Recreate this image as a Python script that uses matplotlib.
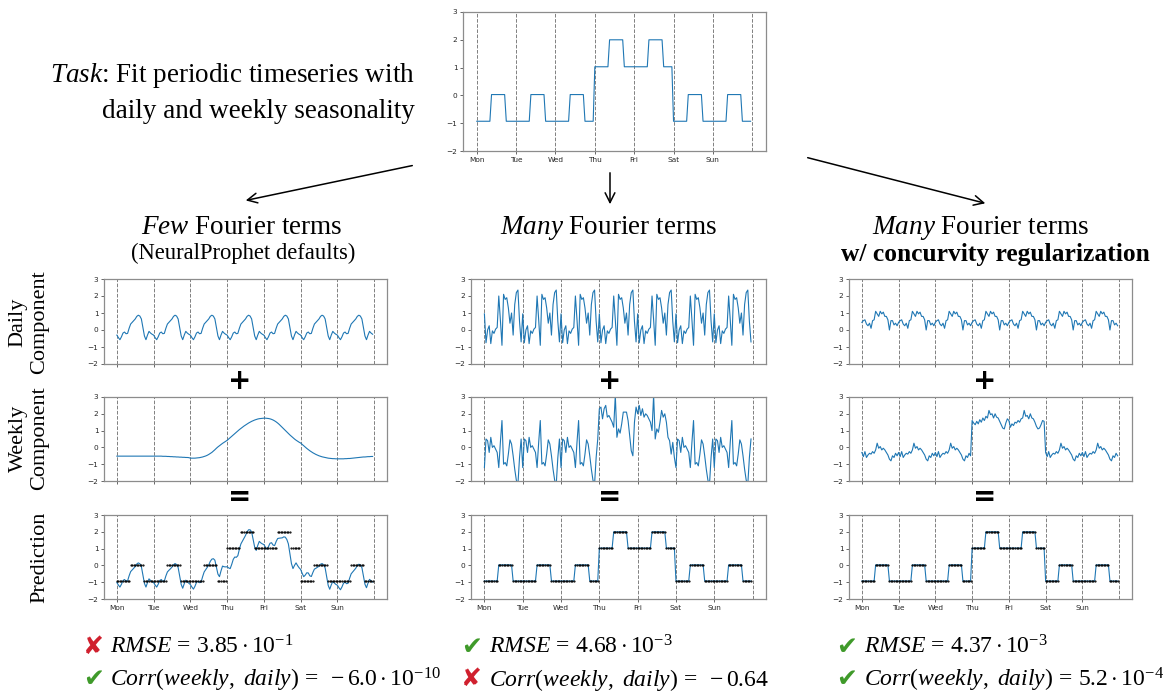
import matplotlib
matplotlib.use("Agg")
import matplotlib.pyplot as plt
import numpy as np

plt.rcParams['font.family'] = ['Liberation Serif', 'DejaVu Sans']
plt.rcParams['mathtext.fontset'] = 'custom'
plt.rcParams['mathtext.rm'] = 'Liberation Serif'
plt.rcParams['mathtext.it'] = 'Liberation Serif:italic'
plt.rcParams['mathtext.bf'] = 'Liberation Serif:bold'

W, H = 1169, 694
days = ['Mon', 'Tue', 'Wed', 'Thu', 'Fri', 'Sat', 'Sun']

# target series, hourly values (normal day / Thu-Fri)
normal_day = [-0.93]*9 + [0.03]*9 + [-0.93]*6
busy_day = [1.03]*9 + [2.0]*9 + [1.03]*6
target = np.array(normal_day*3 + busy_day*2 + normal_day*2)
hours = np.arange(168) / 24

# few fourier terms
few_daily = [-0.3, -0.45, -0.57, -0.4, -0.18, -0.12, -0.22, -0.2, 0.1, 0.35, 0.45, 0.55,
             0.65, 0.8, 0.87, 0.82, 0.65, 0.15, -0.35, -0.57, -0.3, -0.08, -0.18, -0.25]
few_weekly_mon = [-0.52]*24
few_weekly_tue = [-0.52, -0.52, -0.52, -0.52, -0.52, -0.52, -0.53, -0.53, -0.53, -0.54, -0.54, -0.55,
                  -0.55, -0.56, -0.56, -0.57, -0.57, -0.58, -0.58, -0.59, -0.59, -0.60, -0.60, -0.61]
few_weekly_wed = [-0.64, -0.64, -0.64, -0.64, -0.63, -0.62, -0.61, -0.59, -0.57, -0.54, -0.51, -0.47,
                  -0.42, -0.36, -0.30, -0.22, -0.14, -0.05, 0.03, 0.10, 0.17, 0.24, 0.30, 0.36]
few_weekly_thu = [0.42, 0.50, 0.58, 0.66, 0.74, 0.82, 0.90, 0.98, 1.06, 1.13, 1.20, 1.27,
                  1.33, 1.39, 1.45, 1.50, 1.55, 1.59, 1.63, 1.66, 1.69, 1.71, 1.72, 1.73]
few_weekly_fri = [1.74, 1.74, 1.73, 1.72, 1.70, 1.67, 1.63, 1.58, 1.52, 1.45, 1.37, 1.28,
                  1.19, 1.10, 1.01, 0.92, 0.83, 0.74, 0.66, 0.58, 0.50, 0.43, 0.37, 0.31]
few_weekly_sat = [0.26, 0.18, 0.10, 0.02, -0.06, -0.13, -0.20, -0.26, -0.32, -0.37, -0.42, -0.46,
                  -0.50, -0.53, -0.56, -0.58, -0.60, -0.62, -0.64, -0.65, -0.66, -0.67, -0.67, -0.68]
few_weekly_sun = [-0.68, -0.68, -0.68, -0.68, -0.68, -0.67, -0.67, -0.66, -0.66, -0.65, -0.64, -0.63,
                  -0.62, -0.61, -0.60, -0.59, -0.58, -0.57, -0.57, -0.56, -0.55, -0.55, -0.54, -0.54]
few_trend = -0.2

# many fourier terms
many_daily = [0.95, -0.75, 0.0, 0.25, -0.8, -0.05, -0.2, 0.05, 0.15, 2.0, 0.6, -0.9,
              2.1, 1.8, 1.9, 1.3, 0.4, 1.0, -0.3, 1.5, 2.2, 2.35, 0.5, -0.7]
many_weekly_normal = [-1.2, 0.5, 0.4, -0.3, 0.6, 0.0, 0.1, -0.1, -0.3, -1.2, 0.3, 1.6,
                      -1.0, -0.9, -1.1, -0.4, 0.45, 0.2, -0.5, -1.3, -1.95, -2.2, -0.6, 0.5]
many_weekly_thu = [2.3, 2.4, 1.7, 2.3, 2.5, 1.8, 1.9, 1.7, 1.5, 1.2, 3.1, 0.6,
                   1.1, 0.85, 1.4, 2.1, 2.1, 2.1, 1.6, 0.7, -0.2, -0.5, 1.5, 2.4]
many_weekly_fri = [2.0, 2.5, 1.9, 2.3, 1.8, 2.0, 1.9, 1.7, 1.5, 1.0, 3.1, 0.5,
                   1.1, 0.9, 1.5, 2.2, 1.8, 2.0, 1.5, 0.6, 0.4, -0.4, 0.3, -0.6]

# many fourier terms + concurvity regularization
reg_daily = [0.45, 0.55, 0.6, 0.35, 0.25, 0.4, 0.1, 0.55, 0.6, 1.1, 0.95, 0.8,
             1.1, 0.95, 1.05, 0.8, 0.8, 0.6, 0.0, 0.55, 0.55, 0.3, 0.4, 0.25]
reg_weekly_normal = [-0.3, -0.55, -0.25, -0.6, -0.45, -0.35, -0.4, -0.25, -0.35, -0.15, 0.25, -0.05,
                     0.05, -0.15, -0.05, -0.15, -0.3, -0.45, -0.7, -0.8, -0.5, -0.6, -0.35, -0.5]
reg_weekly_thu = [1.6, 1.45, 1.35, 1.55, 1.4, 1.65, 1.5, 1.75, 1.6, 1.85, 1.75, 2.2,
                  1.95, 2.0, 1.75, 2.0, 1.8, 1.75, 1.55, 1.35, 1.15, 1.1, 1.45, 1.7]
reg_weekly_fri = [1.6, 1.2, 1.4, 1.3, 1.5, 1.45, 1.6, 1.5, 1.7, 1.75, 2.2, 1.85,
                  1.9, 1.7, 2.0, 1.75, 1.7, 1.5, 1.25, 1.1, 1.15, 1.35, 1.6, 1.55]

few_weekly = np.array(few_weekly_mon + few_weekly_tue + few_weekly_wed + few_weekly_thu
                      + few_weekly_fri + few_weekly_sat + few_weekly_sun)
few_pred = np.array(few_daily*7) + few_weekly + few_trend
many_weekly = many_weekly_normal*3 + many_weekly_thu + many_weekly_fri + many_weekly_normal*2
reg_weekly = reg_weekly_normal*3 + reg_weekly_thu + reg_weekly_fri + reg_weekly_normal*2

fig = plt.figure(figsize=(W/100, H/100), dpi=100)


def px_axes(l, t, r, b):
    return fig.add_axes([l/W, 1 - b/H, (r - l)/W, (b - t)/H])


def put(x, y, s, **kw):
    fig.text(x/W, 1 - y/H, s, **kw)


def style(ax, labels):
    ax.set_xlim(-0.35, 7.35)
    ax.set_ylim(-2, 3)
    for d in range(8):
        ax.axvline(d, color='grey', ls='--', lw=0.7, zorder=0)
    ax.set_xticks(range(7))
    ax.set_xticklabels(days if labels else [])
    ax.set_yticks(range(-2, 4))
    ax.tick_params(labelsize=5.3, length=2.5, width=0.6, pad=1.5, colors='0.3')
    for t in ax.get_xticklabels() + ax.get_yticklabels():
        t.set_fontfamily('DejaVu Sans')
        t.set_color('0.15')
    for sp in ax.spines.values():
        sp.set_color('0.55')
        sp.set_linewidth(0.9)


blue = '#1f77b4'

# top target chart
ax = px_axes(463, 12, 766, 151)
ax.plot(hours, target, color=blue, lw=0.8)
style(ax, True)

cols = [(104, 387, few_daily*7, few_weekly, few_pred),
        (471, 766, many_daily*7, many_weekly, target),
        (849, 1132, reg_daily*7, reg_weekly, target)]
rows = [(279, 364), (397, 481), (515, 599)]
for l, r, daily, weekly, pred in cols:
    for i, series in enumerate([daily, weekly, pred]):
        t, b = rows[i]
        ax = px_axes(l, t, r, b)
        ax.plot(hours, series, color=blue, lw=0.8)
        if i == 2:
            ax.plot(hours, target, 'k.', ms=1.1, zorder=3)
        style(ax, i == 2)

# texts
put(415, 75, r'$\mathit{Task}$: Fit periodic timeseries with', ha='right', va='center', fontsize=19.5)
put(415, 111, 'daily and weekly seasonality', ha='right', va='center', fontsize=19.5)

put(242, 228, r'$\mathit{Few}$ Fourier terms', ha='center', va='center', fontsize=19.5)
put(243, 253, '(NeuralProphet defaults)', ha='center', va='center', fontsize=16.3)
put(608, 228, r'$\mathit{Many}$ Fourier terms', ha='center', va='center', fontsize=19.5)
put(980, 228, r'$\mathit{Many}$ Fourier terms', ha='center', va='center', fontsize=19.5)
put(995, 255, 'w/ concurvity regularization', ha='center', va='center', fontsize=18.4, fontweight='bold')

put(18, 322, 'Daily', rotation=90, ha='center', va='center', fontsize=16)
put(40, 322, 'Component', rotation=90, ha='center', va='center', fontsize=16)
put(18, 438, 'Weekly', rotation=90, ha='center', va='center', fontsize=16)
put(40, 438, 'Component', rotation=90, ha='center', va='center', fontsize=16)
put(40, 557, 'Prediction', rotation=90, ha='center', va='center', fontsize=16)

for cx in [240, 610, 985]:
    put(cx, 381, '+', ha='center', va='center', fontsize=20, fontweight='bold', family='DejaVu Sans')
    put(cx, 497, '=', ha='center', va='center', fontsize=20, fontweight='bold', family='DejaVu Sans')

arrows = [((415, 165), (243, 201)), ((610, 170), (610, 207)), ((805, 157), (988, 204))]
for (x0, y0), (x1, y1) in arrows:
    plt.annotate('', xy=(x1, H - y1), xytext=(x0, H - y0), xycoords='figure pixels',
                 textcoords='figure pixels',
                 arrowprops=dict(arrowstyle='->,head_length=0.7,head_width=0.35', lw=1.1, color='k'))

green = '#3f9a2a'
red = '#d0202e'
results = [
    (83, 110, ('✘', red, r'$RMSE\,=\,3.85\cdot10^{-1}$'),
     ('✔', green, r'$Corr(weekly,\ daily)\,=\ -6.0\cdot10^{-10}$')),
    (461, 489, ('✔', green, r'$RMSE\,=\,4.68\cdot10^{-3}$'),
     ('✘', red, r'$Corr(weekly,\ daily)\,=\ -0.64$')),
    (836, 864, ('✔', green, r'$RMSE\,=\,4.37\cdot10^{-3}$'),
     ('✔', green, r'$Corr(weekly,\ daily)\,=\,5.2\cdot10^{-4}$')),
]
for xm, xt, line1, line2 in results:
    for (mark, c, s), yb in zip([line1, line2], [654, 686]):
        put(xm, yb, mark, ha='left', va='baseline', fontsize=18, color=c, family='DejaVu Sans')
        put(xt, yb, s, ha='left', va='baseline', fontsize=17)

fig.savefig('out.png', dpi=100)
